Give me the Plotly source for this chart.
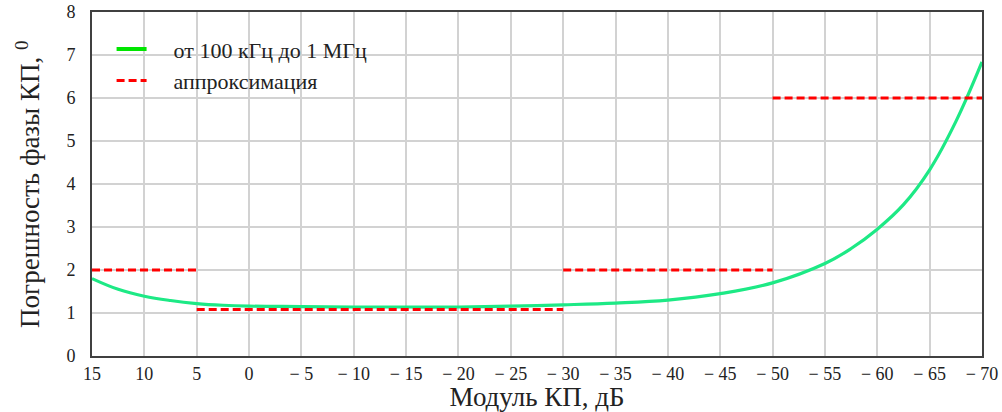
import plotly.graph_objects as go

# Phase error of the transfer coefficient vs its modulus (dB)
modulus_db = [15, 12.5, 10, 7.5, 5, 2.5, 0, -5, -10, -15, -20, -25, -30, -35,
              -40, -45, -50, -55, -57.5, -60, -62.5, -65, -67.5, -70]
phase_error = [1.80, 1.55, 1.39, 1.29, 1.22, 1.18, 1.16, 1.15, 1.14, 1.14, 1.14,
               1.16, 1.19, 1.23, 1.30, 1.45, 1.70, 2.15, 2.50, 2.95, 3.52, 4.33,
               5.45, 6.84]

# Piecewise-constant approximation: segment bounds and levels
seg_start = [15, 5, -30, -50]
seg_end = [5, -30, -50, -70]
seg_level = [2.0, 1.08, 2.0, 6.0]

x_ticks = [15, 10, 5, 0, -5, -10, -15, -20, -25, -30, -35, -40, -45, -50,
           -55, -60, -65, -70]
x_ticktext = [str(v) if v >= 0 else "\u2212 " + str(-v) for v in x_ticks]
y_ticks = [0, 1, 2, 3, 4, 5, 6, 7, 8]

curve_color = "#1de985"
legend_green = "#00e600"
approx_color = "#ff0000"
serif = "Liberation Serif, Times New Roman, serif"
ink = "#222222"
pad = "\u00a0\u00a0\u00a0\u00a0"

approx_x, approx_y = [], []
for a, b, lv in zip(seg_start, seg_end, seg_level):
    approx_x += [a, b, None]
    approx_y += [lv, lv, None]

fig = go.Figure()

fig.add_trace(go.Scatter(
    x=modulus_db, y=phase_error, mode="lines",
    line=dict(color=curve_color, width=3.2, shape="spline", smoothing=1.1),
    showlegend=False, hoverinfo="skip",
))
# legend entry for the curve
fig.add_trace(go.Scatter(
    x=[None], y=[None], mode="lines",
    line=dict(color=legend_green, width=4),
    name=pad + "от 100 кГц до 1 МГц", legendgroup="a",
))
fig.add_trace(go.Scatter(
    x=approx_x, y=approx_y, mode="lines",
    line=dict(color=approx_color, width=3, dash="8px,4px"),
    name=pad + "аппроксимация", legendgroup="b",
))

fig.update_layout(
    width=1002, height=412,
    margin=dict(l=92, r=20, t=12, b=56),
    paper_bgcolor="white", plot_bgcolor="white",
    font=dict(family=serif, size=18, color=ink),
    showlegend=True,
    legend=dict(
        x=0.022, y=0.953, xanchor="left", yanchor="top",
        bgcolor="rgba(255,255,255,0)", borderwidth=0,
        font=dict(family=serif, size=22, color=ink),
        tracegroupgap=0, itemwidth=30,
    ),
    annotations=[dict(
        text="Погрешность фазы КП, <sup>0</sup>",
        xref="paper", yref="paper", x=-0.072, y=0.5,
        xanchor="center", yanchor="middle", textangle=-90, showarrow=False,
        font=dict(family=serif, size=27, color=ink),
    )],
)

fig.update_xaxes(
    range=[15, -70], tickmode="array", tickvals=x_ticks, ticktext=x_ticktext,
    showgrid=True, gridcolor="#d2d2d2", gridwidth=1.5,
    showline=True, linecolor="#404040", linewidth=2, mirror=True,
    ticks="", zeroline=False, automargin=False,
    tickfont=dict(family=serif, size=18, color=ink),
    title=dict(text="Модуль КП, дБ", font=dict(family=serif, size=27, color=ink),
               standoff=6),
)
fig.update_yaxes(
    range=[0, 8], tickmode="array", tickvals=y_ticks,
    showgrid=True, gridcolor="#d2d2d2", gridwidth=1.5,
    showline=True, linecolor="#404040", linewidth=2, mirror=True,
    ticks="", zeroline=False, ticklabelstandoff=11, automargin=False,
    tickfont=dict(family=serif, size=18, color=ink),
)

fig.write_html("out.html")
